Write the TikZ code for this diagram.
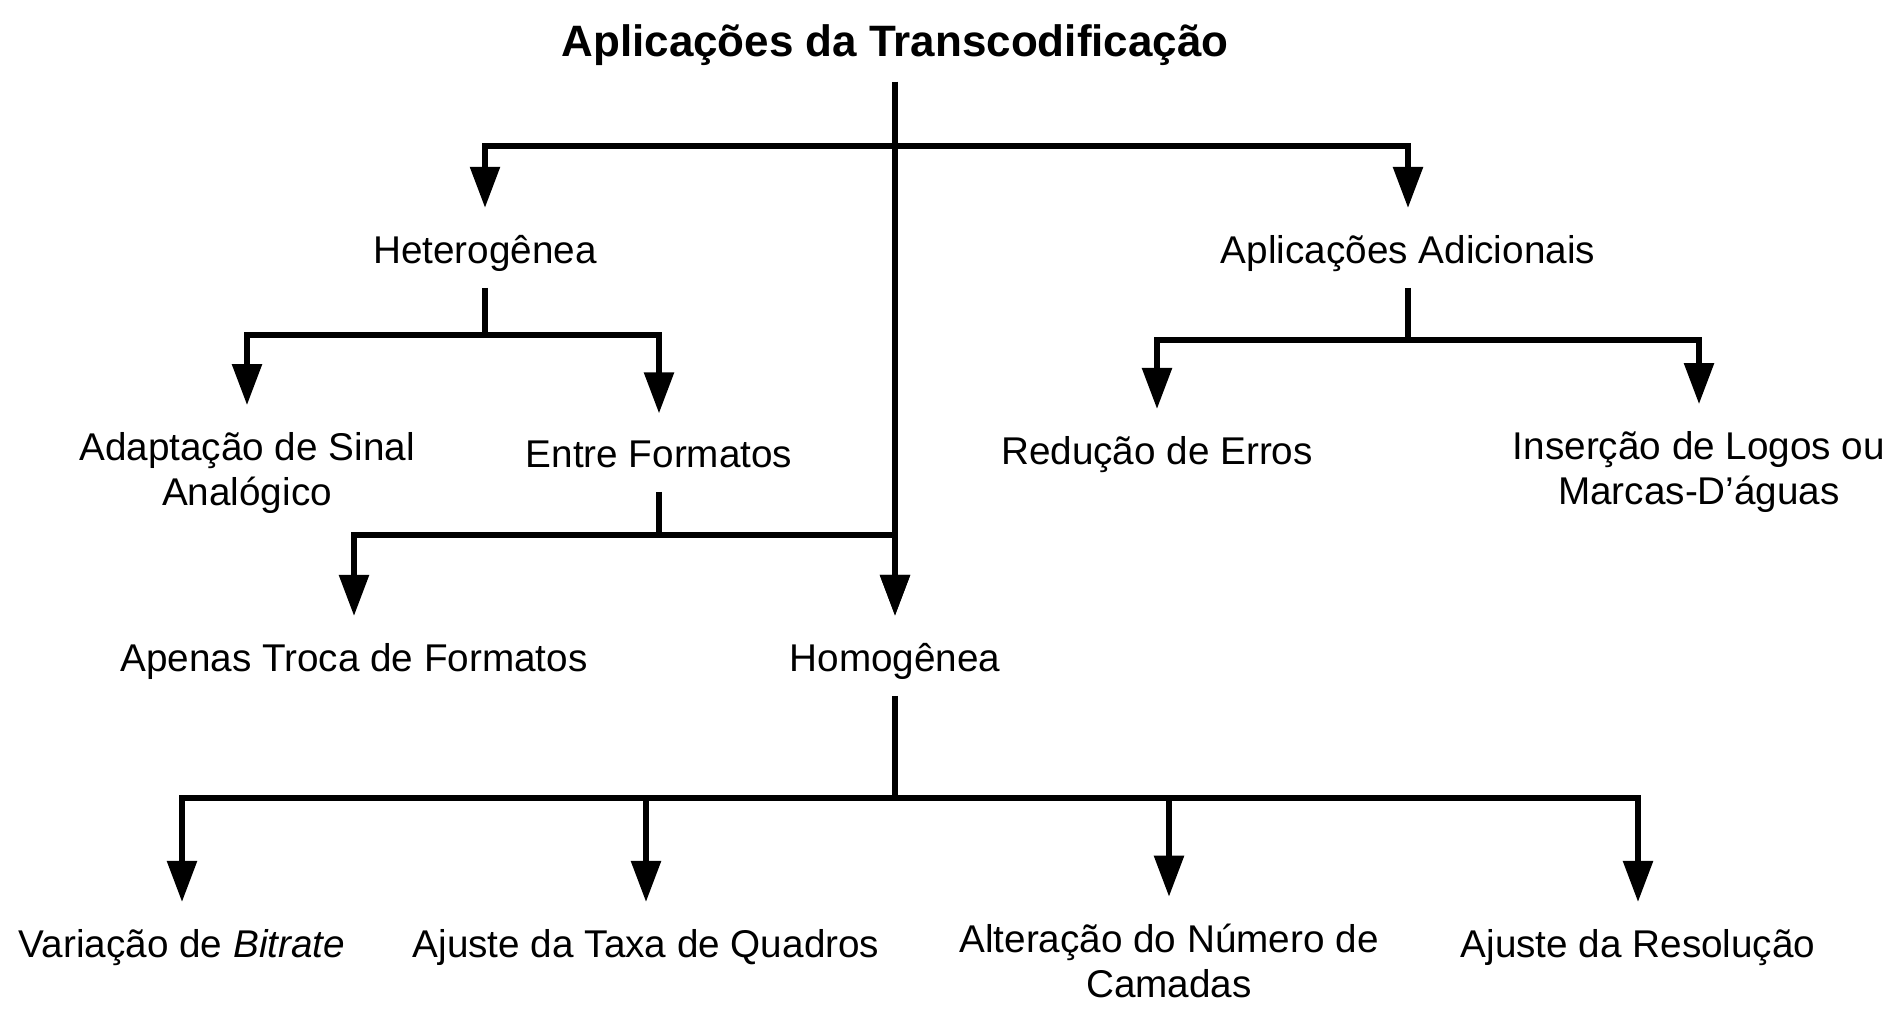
\documentclass[tikz,border=0pt]{standalone}
\usepackage{fontspec}
\setmainfont{Liberation Sans}
\usetikzlibrary{arrows.meta}

\begin{document}
\begin{tikzpicture}[x=0.01cm, y=-0.01cm,
		every node/.style={inner sep=0pt, outer sep=0pt, font=\fontsize{11}{13}\selectfont},
		item/.style={anchor=base, text depth=0.22em},
		item2/.style={align=center},
		stem/.style={line width=1.6pt, shorten <=0.17cm},
		conn/.style={line width=1.6pt, shorten >=0.27cm, -{Triangle[length=0.41cm, width=0.29cm]}}]
		%%%%% START %%%%%
		
		\useasboundingbox (0, 0) rectangle (1900, 1018);
		
		\node[item, font=\bfseries\fontsize{12.5}{15}\selectfont] (titulo) at (895, 57) {Aplicações da Transcodificação};
		
		\node[item] (het) at (485, 263) {Heterogênea};
		\node[item] (adic) at (1408, 263) {Aplicações Adicionais};
		
		\node[item2] (adapt) at (247, 473) {Adaptação de Sinal\\Analógico};
		\node[item] (entre) at (659, 467) {Entre Formatos};
		\node[item] (reduc) at (1157, 464) {Redução de Erros};
		\node[item2] (insere) at (1699, 472) {Inserção de Logos ou\\Marcas-D’águas};
		
		\node[item] (apenas) at (354, 671) {Apenas Troca de Formatos};
		\node[item] (homo) at (895, 671) {Homogênea};
		
		\node[item] (varia) at (182, 957) {Variação de \textit{Bitrate}};
		\node[item] (ajtaxa) at (646, 957) {Ajuste da Taxa de Quadros};
		\node[item2] (alter) at (1169, 961) {Alteração do Número de\\Camadas};
		\node[item] (ajres) at (1638, 957) {Ajuste da Resolução};
		
		% junctions
		\coordinate (topJ) at (895, 146);
		\coordinate (hetJ) at (485, 335);
		\coordinate (adJ) at (1408, 340);
		\coordinate (entJ) at (659, 535);
		\coordinate (homJ) at (895, 798);
		
		\draw[conn, shorten <=0.17cm] (titulo) -- (homo);
		\draw[conn] (topJ) -| (het);
		\draw[conn] (topJ) -| (adic);
		
		\draw[stem] (het) -- (hetJ);
		\draw[conn] (hetJ) -| (adapt);
		\draw[conn] (hetJ) -| (entre);
		
		\draw[stem] (entre) -- (entJ);
		\draw[conn] (entJ) -| (apenas);
		\draw[conn] (entJ) -| (homo);
		
		\draw[stem] (adic) -- (adJ);
		\draw[conn] (adJ) -| (reduc);
		\draw[conn] (adJ) -| (insere);
		
		\draw[stem] (homo) -- (homJ);
		\foreach \n in {varia, ajtaxa, alter, ajres}
			\draw[conn] (homJ) -| (\n);
		
		%%%%% END %%%%%
\end{tikzpicture}
\end{document}
